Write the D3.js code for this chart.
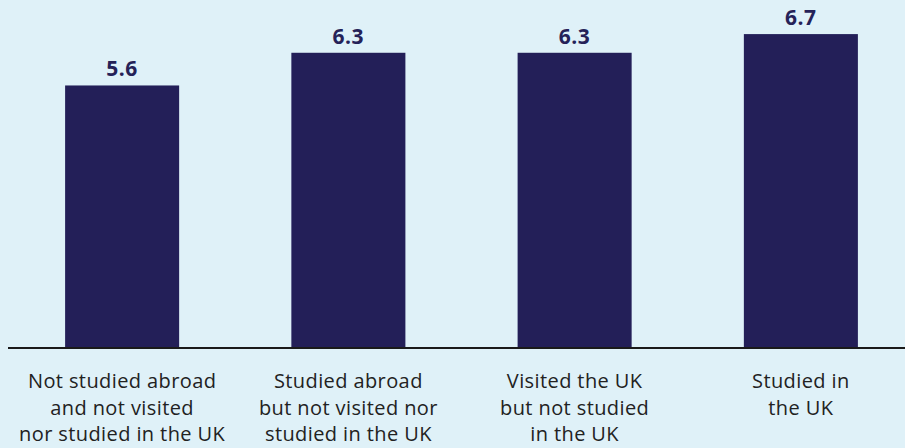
<!DOCTYPE html>
<html><head><meta charset="utf-8">
<script src="https://cdn.jsdelivr.net/npm/d3@7"></script>
<style>
html,body{margin:0;padding:0;background:#dff1f8;}
svg{display:block;}
</style></head>
<body>
<svg id="chart" width="905" height="448"></svg>
<script>
const categories = [
  ["Not studied abroad", "and not visited", "nor studied in the UK"],
  ["Studied abroad", "but not visited nor", "studied in the UK"],
  ["Visited the UK", "but not studied", "in the UK"],
  ["Studied in", "the UK"]
];
const values = [5.6, 6.3, 6.3, 6.7];
const valueLabels = ["5.6", "6.3", "6.3", "6.7"];

const W = 905, H = 448;
const svg = d3.select("#chart");
svg.append("rect").attr("width", W).attr("height", H).attr("fill", "#dff1f8");

const baseY = 347;
const x = d3.scaleBand().domain(d3.range(values.length)).range([9, 914])
  .paddingInner(0.496).paddingOuter(0.248);
const y = d3.scaleLinear().domain([0, 7.43]).range([baseY, 0]);

svg.selectAll("rect.bar").data(values).enter().append("rect")
  .attr("class", "bar")
  .attr("x", (d, i) => x(i))
  .attr("width", x.bandwidth())
  .attr("y", d => y(d))
  .attr("height", d => baseY - y(d))
  .attr("fill", "#231f58");

svg.selectAll("text.val").data(values).enter().append("text")
  .attr("class", "val")
  .attr("x", (d, i) => x(i) + x.bandwidth() / 2)
  .attr("y", d => y(d) - 9)
  .attr("text-anchor", "middle")
  .attr("font-family", "'Open Sans', sans-serif")
  .attr("font-weight", "bold")
  .attr("font-size", 21)
  .attr("letter-spacing", 0.5)
  .attr("fill", "#252258")
  .text((d, i) => valueLabels[i]);

// axis line
svg.append("line").attr("x1", 8).attr("x2", W).attr("y1", baseY + 1).attr("y2", baseY + 1)
  .attr("stroke", "#1a1a1a").attr("stroke-width", 2);

// category labels
const lab = svg.selectAll("text.cat").data(categories).enter().append("text")
  .attr("class", "cat")
  .attr("text-anchor", "middle")
  .attr("font-family", "'Open Sans', sans-serif")
  .attr("font-size", 20)
  .attr("letter-spacing", 0.4)
  .attr("fill", "#222222");
lab.each(function(lines, i) {
  const t = d3.select(this);
  lines.forEach((l, j) => {
    t.append("tspan").attr("x", x(i) + x.bandwidth() / 2).attr("y", 388 + j * 26.5).text(l);
  });
});
</script>
</body></html>
